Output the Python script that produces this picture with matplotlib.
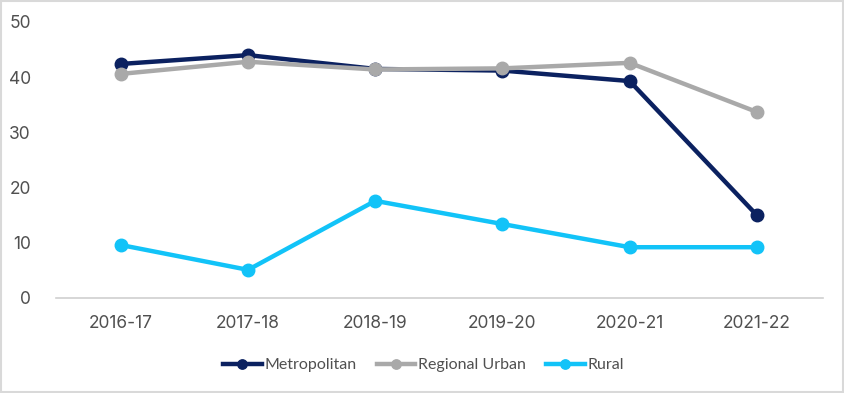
import matplotlib
matplotlib.use("Agg")
import matplotlib.pyplot as plt
from matplotlib.patches import Rectangle

# --- data ---
years = ["2016-17", "2017-18", "2018-19", "2019-20", "2020-21", "2021-22"]
metro = [42.4, 44.0, 41.5, 41.2, 39.3, 15.0]
regional = [40.6, 42.8, 41.4, 41.6, 42.6, 33.7]
rural = [9.6, 5.1, 17.6, 13.4, 9.2, 9.2]

NAVY, GREY, CYAN = "#0b2160", "#a9a9a9", "#12c3f8"
TXT = "#505050"

plt.rcParams["font.family"] = ["Inter", "DejaVu Sans"]

fig = plt.figure(figsize=(8.45, 3.93), dpi=100)
ax = fig.add_axes([56/845, 1 - 298/393, (823-56)/845, (298-22)/393])

x = range(len(years))
for vals, col, lab in [(metro, NAVY, "Metropolitan"),
                       (regional, GREY, "Regional Urban"),
                       (rural, CYAN, "Rural")]:
    ax.plot(x, vals, color=col, lw=3.2, marker="o", ms=9, label=lab, zorder=3)

ax.set_xlim(-0.51, 5.52)
ax.set_ylim(0, 50)
ax.set_yticks([0, 10, 20, 30, 40, 50])
ax.set_xticks(list(x))
ax.set_xticklabels(years)

for s in ["top", "right", "left"]:
    ax.spines[s].set_visible(False)
ax.spines["bottom"].set_color("#d0d0d0")
ax.spines["bottom"].set_linewidth(1.2)
ax.tick_params(axis="both", length=0, labelsize=12.5, labelcolor=TXT)
ax.tick_params(axis="y", pad=18)
ax.tick_params(axis="x", pad=12)

leg = ax.legend(loc="upper center", bbox_to_anchor=(0.479, -0.165), ncol=3,
                frameon=False, handlelength=2.4, handletextpad=0.15,
                columnspacing=1.3, markerscale=0.75,
                prop={"family": ["Lato", "DejaVu Sans"], "size": 11.5})
for t in leg.get_texts():
    t.set_color(TXT)

# light outer border
fig.patches.append(Rectangle((0.001, 0.002), 0.997, 0.995, transform=fig.transFigure,
                             fill=False, edgecolor="#d9d9d9", lw=1.5))

fig.savefig("out.png", dpi=100)
